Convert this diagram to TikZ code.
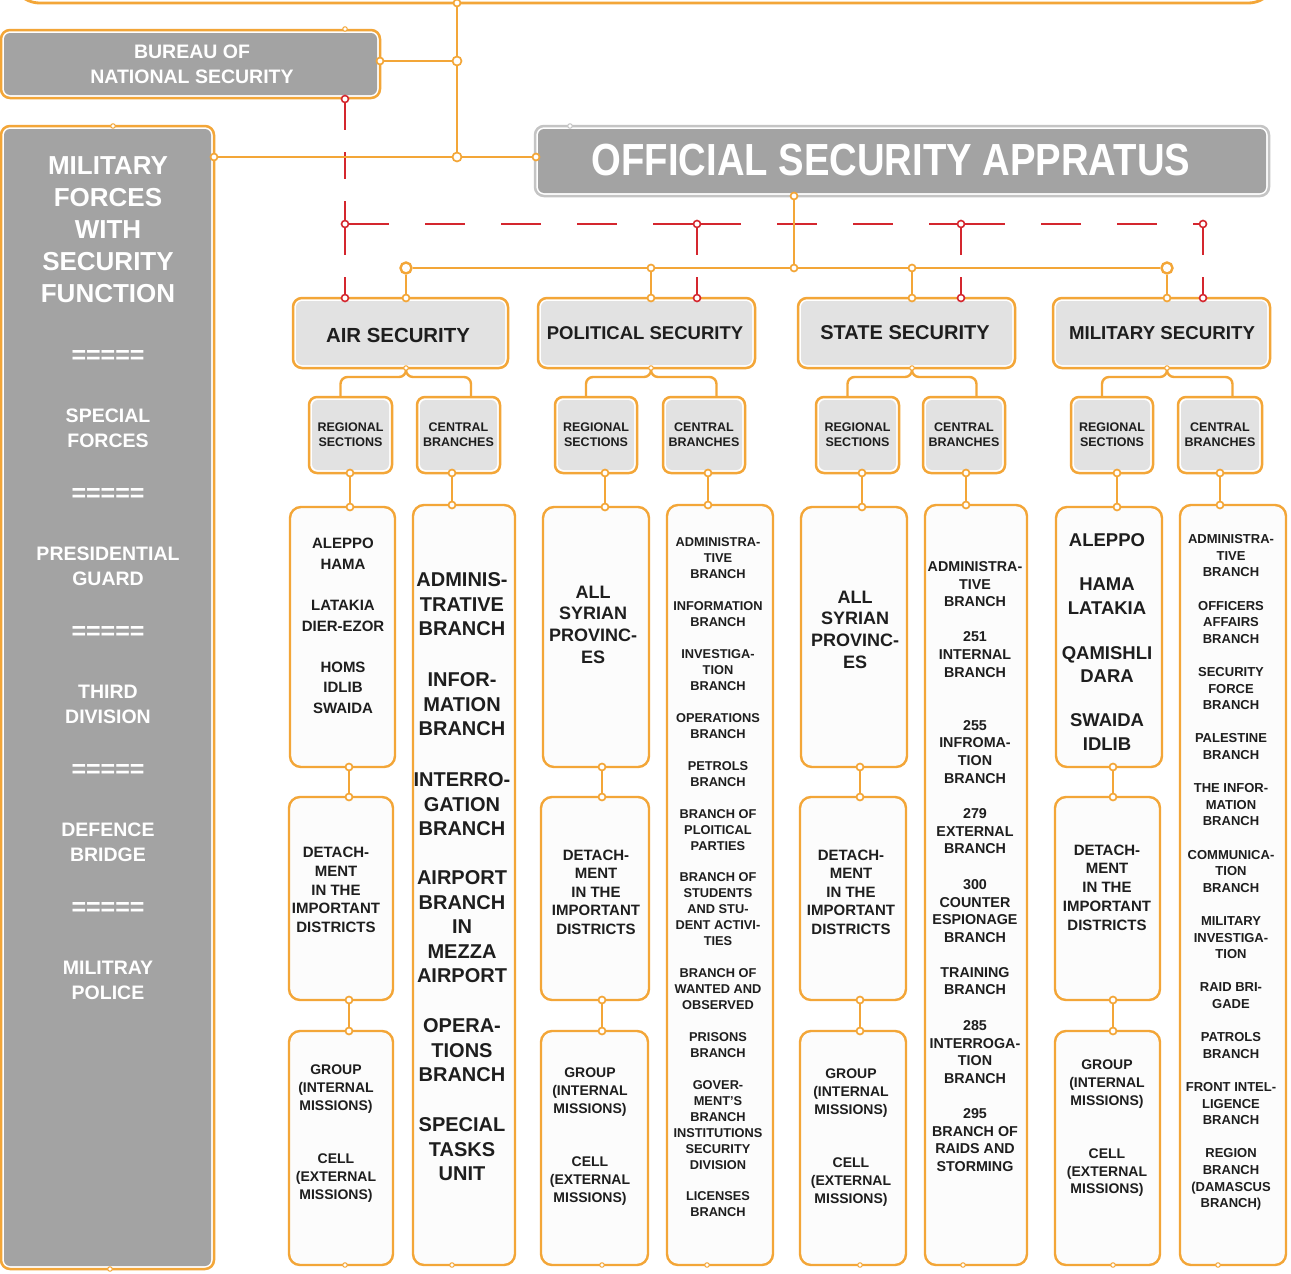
\documentclass[tikz,border=0pt]{standalone}
\usepackage{fontspec}
\setmainfont{Liberation Sans}
\usepackage{graphicx}
\newcommand\fsz[2]{\fontsize{#1}{#2}\selectfont}
\definecolor{org}{RGB}{243,166,56}
\definecolor{rd}{RGB}{212,38,46}
\definecolor{dgray}{RGB}{163,163,163}
\definecolor{lgray}{RGB}{226,226,226}
\definecolor{colfill}{RGB}{252,252,252}
\definecolor{edgegray}{RGB}{196,196,196}
\definecolor{txc}{RGB}{30,30,30}

\tikzset{
  boxframe/.style 2 args={draw=#1, line width=2.5pt, fill=white, rounded corners=9pt, inner sep=0pt,
    path picture={\fill[#2, rounded corners=6pt]
      ([xshift=3pt,yshift=-3pt]path picture bounding box.north west) rectangle
      ([xshift=-3pt,yshift=3pt]path picture bounding box.south east);}},
  darkbox/.style={boxframe={org}{dgray}},
  headbox/.style={boxframe={org}{lgray}},
  subbox/.style={boxframe={org}{lgray}, rounded corners=8pt},
  colbox/.style={draw=org, line width=2.4pt, fill=colfill, rounded corners=11pt, inner sep=0pt},
  lbl/.style={align=center, inner sep=0pt, text=txc},
  wlbl/.style={align=center, inner sep=0pt, text=white},
  jo/.style={circle, draw=org, fill=white, line width=1.7pt, inner sep=0pt, minimum size=7pt},
  jbig/.style={jo, line width=2.4pt, minimum size=11pt},
  jsm/.style={circle, draw=org, fill=white, line width=1pt, inner sep=0pt, minimum size=4.5pt},
  jr/.style={circle, draw=rd, fill=white, line width=1.6pt, inner sep=0pt, minimum size=7pt},
  ol/.style={draw=org, line width=2.9pt},
  rdh/.style={draw=rd, line width=2.2pt, dash pattern=on 40pt off 36pt},
  rdv/.style={draw=rd, line width=2.2pt, dash pattern=on 27pt off 22pt},
}

% vertical orange link between two junction dots
\newcommand\mkvlink[4]{%
  \node[jo] (#1a) at (#2,#3) {};
  \node[jo] (#1b) at (#2,#4) {};
  \draw[ol] (#1a) -- (#1b);}

\begin{document}
\begin{tikzpicture}[x=1pt,y=-1pt, font=\bfseries]
\useasboundingbox (0,0) rectangle (1291,1274);
\clip (0,0) rectangle (1291,1274);
\fill[white] (0,0) rectangle (1291,1274);

% ---------- top frame (only its lower edge is on the page)
\node[draw=org, line width=2.8pt, rounded corners=30pt, minimum width=1268pt, minimum height=63pt] (topframe) at (644,-28.5) {};

% ---------- left boxes
\node[darkbox, minimum width=379pt, minimum height=68pt] (bureau) at (190.5,64) {};
\node[wlbl, font=\bfseries\fsz{19.5}{25}] (bureauT) at (192,64.5) {BUREAU OF\\NATIONAL SECURITY};

\node[darkbox, minimum width=213pt, minimum height=1143pt] (milf) at (107.5,697.5) {};
\node[wlbl, font=\bfseries\fsz{26}{32}] (milfT) at (108,230) {MILITARY\\FORCES\\WITH\\SECURITY\\FUNCTION};
\foreach \yy [count=\i] in {357,495,633,771,909}
  \node[wlbl, font=\bfseries\fsz{25}{25}] (eq\i) at (108,\yy) {=====};
\node[wlbl, font=\bfseries\fsz{19.5}{25}] (mf1) at (108,428.5) {SPECIAL\\FORCES};
\node[wlbl, font=\bfseries\fsz{19.5}{25}] (mf2) at (108,566.5) {PRESIDENTIAL\\GUARD};
\node[wlbl, font=\bfseries\fsz{19.5}{25}] (mf3) at (108,704.5) {THIRD\\DIVISION};
\node[wlbl, font=\bfseries\fsz{19.5}{25}] (mf4) at (108,842.5) {DEFENCE\\BRIDGE};
\node[wlbl, font=\bfseries\fsz{19.5}{25}] (mf5) at (108,980.5) {MILITRAY\\POLICE};

% ---------- main apparatus
\node[boxframe={edgegray}{dgray}, minimum width=734pt, minimum height=70pt] (off) at (902,161) {};
\node[wlbl] (offT) at (891,160) {\scalebox{0.85}[1]{\fsz{45}{50}OFFICIAL SECURITY APPRATUS}};

% ---------- four agencies
\node[headbox, minimum width=215pt, minimum height=70pt] (air) at (400.5,333) {};
\node[lbl, font=\bfseries\fsz{20.4}{24}] (airT) at (398,335) {AIR SECURITY};
\node[headbox, minimum width=217pt, minimum height=70pt] (pol) at (646.5,333) {};
\node[lbl, font=\bfseries\fsz{18.5}{24}] (polT) at (645,333) {POLITICAL SECURITY};
\node[headbox, minimum width=217pt, minimum height=70pt] (sta) at (906.5,333) {};
\node[lbl, font=\bfseries\fsz{20}{24}] (staT) at (905,333) {STATE SECURITY};
\node[headbox, minimum width=217pt, minimum height=70pt] (mil) at (1161.5,333) {};
\node[lbl, font=\bfseries\fsz{18.7}{24}] (milT) at (1162,333) {MILITARY SECURITY};

% ---------- sections / branches
\tikzset{small/.style={subbox, lbl, minimum height=76pt, font=\bfseries\fsz{12.5}{15.3}}}
\node[small, minimum width=83pt] (ar) at (350.5,435) {REGIONAL\\SECTIONS};
\node[small, minimum width=83pt] (ac) at (458.5,435) {CENTRAL\\BRANCHES};
\node[small, minimum width=82pt] (pr) at (596,435) {REGIONAL\\SECTIONS};
\node[small, minimum width=82pt] (pc) at (704,435) {CENTRAL\\BRANCHES};
\node[small, minimum width=83pt] (sr) at (857.5,435) {REGIONAL\\SECTIONS};
\node[small, minimum width=82pt] (sc) at (964,435) {CENTRAL\\BRANCHES};
\node[small, minimum width=82pt] (mr) at (1112,435) {REGIONAL\\SECTIONS};
\node[small, minimum width=84pt] (mc) at (1220,435) {CENTRAL\\BRANCHES};

% ---------- columns
\node[colbox, minimum width=105pt, minimum height=260pt] (ar1) at (342.5,637) {};
\node[colbox, minimum width=104pt, minimum height=203pt] (ar2) at (341,898.5) {};
\node[colbox, minimum width=104pt, minimum height=234pt] (ar3) at (341,1148) {};
\node[colbox, minimum width=102pt, minimum height=760pt] (acol) at (464,885) {};
\node[colbox, minimum width=106pt, minimum height=260pt] (pr1) at (596,637) {};
\node[colbox, minimum width=108pt, minimum height=203pt] (pr2) at (595,898.5) {};
\node[colbox, minimum width=107pt, minimum height=234pt] (pr3) at (594.5,1148) {};
\node[colbox, minimum width=106pt, minimum height=760pt] (pcol) at (720,885) {};
\node[colbox, minimum width=106pt, minimum height=260pt] (sr1) at (854,637) {};
\node[colbox, minimum width=106pt, minimum height=203pt] (sr2) at (853,898.5) {};
\node[colbox, minimum width=106pt, minimum height=234pt] (sr3) at (853,1148) {};
\node[colbox, minimum width=102pt, minimum height=760pt] (scol) at (976,885) {};
\node[colbox, minimum width=106pt, minimum height=260pt] (mr1) at (1109,637) {};
\node[colbox, minimum width=105pt, minimum height=203pt] (mr2) at (1107.5,898.5) {};
\node[colbox, minimum width=105pt, minimum height=234pt] (mr3) at (1107.5,1148) {};
\node[colbox, minimum width=106pt, minimum height=760pt] (mcol) at (1233,885) {};

% ---------- column texts: air security
\node[lbl, font=\bfseries\fsz{15}{20.5}] (ar1T) at (343,626)
  {ALEPPO\\HAMA\\[21pt]LATAKIA\\DIER-EZOR\\[20.5pt]HOMS\\IDLIB\\SWAIDA};
\node[lbl, font=\bfseries\fsz{15}{18.75}] (ar2T) at (336,890)
  {DETACH-\\MENT\\IN THE\\IMPORTANT\\DISTRICTS};
\node[lbl, font=\bfseries\fsz{14}{18}] (ar3T) at (336,1134)
  {GROUP\\(INTERNAL\\MISSIONS)\\[35pt]CELL\\(EXTERNAL\\MISSIONS)};
\node[lbl, font=\bfseries\fsz{20}{24.5}] (acT) at (462,877)
  {ADMINIS-\\TRATIVE\\BRANCH\\[26.5pt]INFOR-\\MATION\\BRANCH\\[26.5pt]INTERRO-\\GATION\\BRANCH\\[24.5pt]AIRPORT\\BRANCH\\IN\\MEZZA\\AIRPORT\\[25.5pt]OPERA-\\TIONS\\BRANCH\\[25.5pt]SPECIAL\\TASKS\\UNIT};

% ---------- political security
\node[lbl, font=\bfseries\fsz{18}{21.7}] (pr1T) at (593,624.5) {ALL\\SYRIAN\\PROVINC-\\ES};
\node[lbl, font=\bfseries\fsz{15}{18.5}] (pr2T) at (596,892)
  {DETACH-\\MENT\\IN THE\\IMPORTANT\\DISTRICTS};
\node[lbl, font=\bfseries\fsz{14}{17.8}] (pr3T) at (590,1136.5)
  {GROUP\\(INTERNAL\\MISSIONS)\\[36pt]CELL\\(EXTERNAL\\MISSIONS)};
\node[lbl, font=\bfseries\fsz{12.8}{15.95}] (pcT) at (718,877.5)
  {ADMINISTRA-\\TIVE\\BRANCH\\[15.95pt]INFORMATION\\BRANCH\\[15.95pt]INVESTIGA-\\TION\\BRANCH\\[15.95pt]OPERATIONS\\BRANCH\\[15.95pt]PETROLS\\BRANCH\\[15.95pt]BRANCH OF\\PLOITICAL\\PARTIES\\[15.95pt]BRANCH OF\\STUDENTS\\AND STU-\\DENT ACTIVI-\\TIES\\[15.95pt]BRANCH OF\\WANTED AND\\OBSERVED\\[15.95pt]PRISONS\\BRANCH\\[15.95pt]GOVER-\\MENT'S\\BRANCH\\INSTITUTIONS\\SECURITY\\DIVISION\\[15.95pt]LICENSES\\BRANCH};

% ---------- state security
\node[lbl, font=\bfseries\fsz{18}{21.7}] (sr1T) at (855,629.5) {ALL\\SYRIAN\\PROVINC-\\ES};
\node[lbl, font=\bfseries\fsz{15}{18.5}] (sr2T) at (851,892)
  {DETACH-\\MENT\\IN THE\\IMPORTANT\\DISTRICTS};
\node[lbl, font=\bfseries\fsz{14}{17.8}] (sr3T) at (851,1137.5)
  {GROUP\\(INTERNAL\\MISSIONS)\\[36pt]CELL\\(EXTERNAL\\MISSIONS)};
\node[lbl, font=\bfseries\fsz{14.3}{17.6}] (scT) at (975,866.5)
  {ADMINISTRA-\\TIVE\\BRANCH\\[17.6pt]251\\INTERNAL\\BRANCH\\[35.5pt]255\\INFROMA-\\TION\\BRANCH\\[18pt]279\\EXTERNAL\\BRANCH\\[18pt]300\\COUNTER\\ESPIONAGE\\BRANCH\\[17.5pt]TRAINING\\BRANCH\\[18pt]285\\INTERROGA-\\TION\\BRANCH\\[17.5pt]295\\BRANCH OF\\RAIDS AND\\STORMING};

% ---------- military security
\node[lbl, font=\bfseries\fsz{18.5}{23.5}] (mr1T) at (1107,642)
  {ALEPPO\\[20.5pt]HAMA\\LATAKIA\\[21.5pt]QAMISHLI\\DARA\\[20.5pt]SWAIDA\\IDLIB};
\node[lbl, font=\bfseries\fsz{15}{18.75}] (mr2T) at (1107,887.5)
  {DETACH-\\MENT\\IN THE\\IMPORTANT\\DISTRICTS};
\node[lbl, font=\bfseries\fsz{14}{17.8}] (mr3T) at (1107,1128.5)
  {GROUP\\(INTERNAL\\MISSIONS)\\[35pt]CELL\\(EXTERNAL\\MISSIONS)};
\node[lbl, font=\bfseries\fsz{13}{16.6}] (mcT) at (1231,872.5)
  {ADMINISTRA-\\TIVE\\BRANCH\\[16.6pt]OFFICERS\\AFFAIRS\\BRANCH\\[16.6pt]SECURITY\\FORCE\\BRANCH\\[16.6pt]PALESTINE\\BRANCH\\[16.6pt]THE INFOR-\\MATION\\BRANCH\\[16.6pt]COMMUNICA-\\TION\\BRANCH\\[16.6pt]MILITARY\\INVESTIGA-\\TION\\[16.6pt]RAID BRI-\\GADE\\[16.6pt]PATROLS\\BRANCH\\[16.6pt]FRONT INTEL-\\LIGENCE\\BRANCH\\[16.6pt]REGION\\BRANCH\\(DAMASCUS\\BRANCH)};

% ---------- red dashed supervision lines
\node[jr] (rb) at (345,99) {};
\node[jr] (r0) at (345,224) {};
\node[jr] (ra) at (345,298) {};
\node[jr] (rp) at (697,224) {};
\node[jr] (rp2) at (697,298) {};
\node[jr] (rs) at (961,224) {};
\node[jr] (rs2) at (961,298) {};
\node[jr] (rm) at (1203,224) {};
\node[jr] (rm2) at (1203,298) {};
\draw[rdv] (rb) -- (r0);
\draw[rdv] (r0) -- (ra);
\draw[rdh] (r0) -- (rp);
\draw[rdh] (rp) -- (rs);
\draw[rdh] (rs) -- (rm);
\draw[rdv] (rp) -- (rp2);
\draw[rdv] (rs) -- (rs2);
\draw[rdv] (rm) -- (rm2);

% ---------- orange command lines
\node[jo] (t0) at (457,3) {};
\node[jo, minimum size=9pt] (t1) at (457,61) {};
\node[jo, minimum size=9pt] (t2) at (457,157) {};
\node[jo] (b1) at (380,61) {};
\node[jo] (m1) at (214,157) {};
\node[jo] (o1) at (536,157) {};
\draw[ol] (t0) -- (t1);
\draw[ol] (t1) -- (t2);
\draw[ol] (b1) -- (t1);
\draw[ol] (m1) -- (t2);
\draw[ol] (t2) -- (o1);

\node[jo] (o2) at (794,196) {};
\node[jo] (o3) at (794,268) {};
\node[jbig] (h1) at (406,268) {};
\node[jo] (h2) at (651,268) {};
\node[jo] (h3) at (912,268) {};
\node[jbig] (h4) at (1167,268) {};
\draw[ol] (o2) -- (o3);
\draw[ol] (h1) -- (h2);
\draw[ol] (h2) -- (o3);
\draw[ol] (o3) -- (h3);
\draw[ol] (h3) -- (h4);
\node[jo] (a1) at (406,298) {};
\node[jo] (p1) at (651,298) {};
\node[jo] (s1) at (912,298) {};
\node[jo] (mt1) at (1167,298) {};
\draw[ol] (h1) -- (a1);
\draw[ol] (h2) -- (p1);
\draw[ol] (h3) -- (s1);
\draw[ol] (h4) -- (mt1);

% forks from each agency to its sections and branches
\foreach \nm/\xx/\rg/\cn in {af/406/ar/ac, pf/651/pr/pc, sf/912/sr/sc, mf/1167/mr/mc}{
  \node[jsm] (\nm) at (\xx,368) {};
  \draw[ol, line width=2.4pt, rounded corners=7pt] (\nm) -- ++(0,9) -| ([xshift=-10pt]\rg.north);
  \draw[ol, line width=2.4pt, rounded corners=7pt] (\nm) -- ++(0,9) -| ([xshift=12.5pt]\cn.north);
}

% links from sections / branches into the columns
\mkvlink{lar}{350}{473}{507}
\mkvlink{lac}{452}{473}{505}
\mkvlink{lpr}{605}{473}{507}
\mkvlink{lpc}{708}{473}{505}
\mkvlink{lsr}{862}{473}{507}
\mkvlink{lsc}{966}{473}{505}
\mkvlink{lmr}{1117}{473}{507}
\mkvlink{lmc}{1220}{473}{505}
% links down the regional columns
\mkvlink{kar}{349}{767}{797}
\mkvlink{kbr}{349}{1000}{1031}
\mkvlink{kpr}{602}{767}{797}
\mkvlink{kqr}{602}{1000}{1031}
\mkvlink{ksr}{860}{767}{797}
\mkvlink{ktr}{860}{1000}{1031}
\mkvlink{kmr}{1113}{767}{797}
\mkvlink{knr}{1113}{1000}{1031}

% small anchor dots on frame edges
\node[jsm] (d1) at (345,29) {};
\node[jsm] (d2) at (113,126) {};
\node[jsm] (d3) at (110,1269) {};
\node[jsm, draw=edgegray] (d4) at (570,126) {};
\foreach \xx [count=\i] in {345,452,602,707,860,963,1113,1218}
  \node[jsm] (bd\i) at (\xx,1265) {};
\end{tikzpicture}
\end{document}
